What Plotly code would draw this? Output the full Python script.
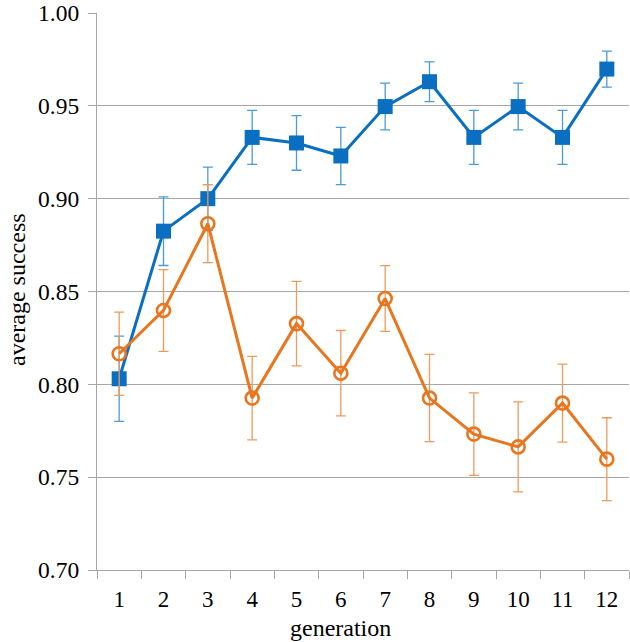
import plotly.graph_objects as go

generations = list(range(1, 13))
blue_vals = [0.803, 0.8825, 0.900, 0.933, 0.930, 0.923, 0.9496, 0.963, 0.933, 0.9496, 0.933, 0.9698]
blue_err = [0.023, 0.0185, 0.017, 0.0145, 0.0147, 0.0154, 0.0126, 0.0107, 0.0145, 0.0126, 0.0145, 0.0097]
orange_vals = [0.8165, 0.8398, 0.8865, 0.7926, 0.8327, 0.806, 0.8462, 0.7926, 0.7732, 0.7663, 0.7899, 0.7597]
orange_err = [0.0224, 0.022, 0.021, 0.0225, 0.0228, 0.023, 0.0177, 0.0235, 0.0222, 0.0242, 0.021, 0.0223]
y_ticks = [0.70, 0.75, 0.80, 0.85, 0.90, 0.95, 1.00]

BLUE = "#0b6fc1"
BLUE_ERR = "#4b9bd8"
ORANGE = "#e8761f"
ORANGE_ERR = "#ee9a5c"
GRID = "#a6a6a6"
FONT = "Liberation Serif"

fig = go.Figure()
fig.add_trace(go.Scatter(
    x=generations, y=blue_vals, mode="lines+markers",
    line=dict(color=BLUE, width=3),
    marker=dict(symbol="square", size=15, color=BLUE),
    error_y=dict(type="data", array=blue_err, visible=True, color=BLUE_ERR, thickness=1.3, width=5),
    showlegend=False,
))
fig.add_trace(go.Scatter(
    x=generations, y=orange_vals, mode="lines+markers",
    line=dict(color=ORANGE, width=3),
    marker=dict(symbol="circle-open", size=13, color=ORANGE, line=dict(width=2.6, color=ORANGE)),
    error_y=dict(type="data", array=orange_err, visible=True, color=ORANGE_ERR, thickness=1.3, width=5),
    showlegend=False,
))

fig.update_layout(
    width=630, height=642,
    margin=dict(l=97, r=1, t=13, b=72),
    paper_bgcolor="white", plot_bgcolor="white",
    font=dict(family=FONT, color="black", size=24),
    xaxis=dict(
        range=[0.5, 12.5], tickvals=generations, ticktext=[str(g) for g in generations],
        ticks="", showgrid=False, zeroline=False, automargin=False,
        showline=True, linecolor=GRID, linewidth=1.3,
        tickfont=dict(family=FONT, size=23), ticklabelstandoff=8,
        minor=dict(tickvals=[g + 0.5 for g in range(0, 13)], ticks="outside", ticklen=8,
                   tickcolor=GRID, tickwidth=1.3, showgrid=False),
    ),
    yaxis=dict(
        range=[0.70, 1.00], tickvals=y_ticks, ticktext=[f"{v:.2f}" for v in y_ticks],
        ticks="outside", ticklen=8, tickcolor=GRID, tickwidth=1.3, automargin=False,
        showgrid=True, gridcolor=GRID, gridwidth=1.3, zeroline=False,
        showline=True, linecolor=GRID, linewidth=1.3,
        tickfont=dict(family=FONT, size=23.5), ticklabelstandoff=4,
    ),
    annotations=[
        dict(text="generation", xref="paper", yref="paper", x=0.458, y=-0.105,
             xanchor="center", yanchor="middle", showarrow=False,
             font=dict(family=FONT, size=24)),
        dict(text="average success", xref="paper", yref="paper", x=-0.149, y=0.504,
             xanchor="center", yanchor="middle", showarrow=False, textangle=-90,
             font=dict(family=FONT, size=24)),
    ],
)

# remove the browser's default 8px body margin so the figure fills the window exactly
fig.write_html("out.html", config={"displayModeBar": False},
               post_script="document.body.style.margin='0px';document.body.style.overflow='hidden';")
